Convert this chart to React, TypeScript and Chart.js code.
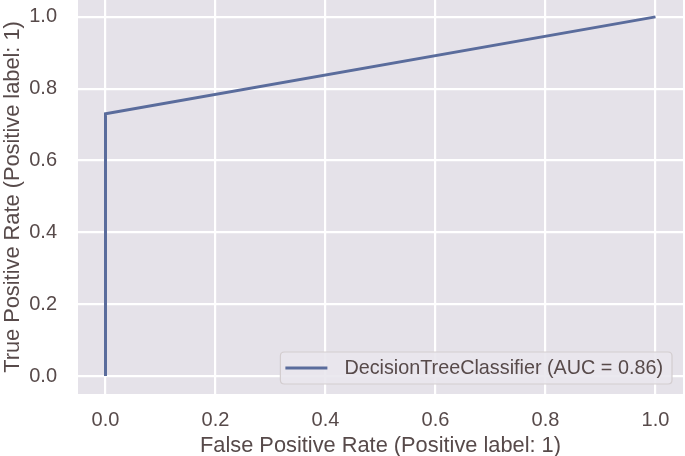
import React, { useEffect, useRef } from "react";
import { Chart, registerables } from "chart.js";

Chart.register(...registerables);

const fpr = [0, 0, 1];
const tpr = [0, 0.73, 1];
const xTicks = [0, 0.2, 0.4, 0.6, 0.8, 1.0];
const yTicks = [0, 0.2, 0.4, 0.6, 0.8, 1.0];
const seriesLabel = "DecisionTreeClassifier (AUC = 0.86)";
const xTitle = "False Positive Rate (Positive label: 1)";
const yTitle = "True Positive Rate (Positive label: 1)";

const FONT = "'Liberation Sans', Arial, sans-serif";
const TEXT = "#574a4a";
const BG = "#e5e2e9";
const LINE = "#5a6c9c";

const bgPlugin = {
  id: "plotBg",
  beforeDraw(chart: any) {
    const { ctx, chartArea } = chart;
    ctx.save();
    ctx.fillStyle = BG;
    ctx.fillRect(chartArea.left, chartArea.top, chartArea.right - chartArea.left, chartArea.bottom - chartArea.top);
    ctx.restore();
  },
};

const legendPlugin = {
  id: "innerLegend",
  afterDatasetsDraw(chart: any) {
    const { ctx, chartArea } = chart;
    const ds = chart.data.datasets[0];
    ctx.save();
    ctx.font = `19.8px ${FONT}`;
    const tw = ctx.measureText(ds.label).width;
    const handle = 42;
    const padL = 5, gap = 17, padR = 9;
    const w = padL + handle + gap + tw + padR;
    const h = 32;
    const x = chartArea.right - 11 - w;
    const y = chartArea.bottom - 10 - h;
    const r = 4;
    ctx.beginPath();
    ctx.moveTo(x + r, y);
    ctx.lineTo(x + w - r, y);
    ctx.quadraticCurveTo(x + w, y, x + w, y + r);
    ctx.lineTo(x + w, y + h - r);
    ctx.quadraticCurveTo(x + w, y + h, x + w - r, y + h);
    ctx.lineTo(x + r, y + h);
    ctx.quadraticCurveTo(x, y + h, x, y + h - r);
    ctx.lineTo(x, y + r);
    ctx.quadraticCurveTo(x, y, x + r, y);
    ctx.closePath();
    ctx.fillStyle = "rgba(233,231,237,0.9)";
    ctx.fill();
    ctx.strokeStyle = "#d3cdcf";
    ctx.lineWidth = 1.2;
    ctx.stroke();
    const cy = y + h / 2;
    ctx.beginPath();
    ctx.moveTo(x + padL, cy);
    ctx.lineTo(x + padL + handle, cy);
    ctx.strokeStyle = ds.borderColor;
    ctx.lineWidth = 3;
    ctx.stroke();
    ctx.fillStyle = TEXT;
    ctx.textBaseline = "middle";
    ctx.textAlign = "left";
    ctx.fillText(ds.label, x + padL + handle + gap, cy + 1);
    ctx.restore();
  },
};

export default function App() {
  const ref = useRef<HTMLCanvasElement | null>(null);
  useEffect(() => {
    if (!ref.current) return;
    const chart = new Chart(ref.current, {
      type: "scatter",
      data: {
        datasets: [
          {
            label: seriesLabel,
            data: fpr.map((v, i) => ({ x: v, y: tpr[i] })),
            showLine: true,
            borderColor: LINE,
            backgroundColor: LINE,
            borderWidth: 3,
            pointRadius: 0,
            tension: 0,
          },
        ],
      },
      options: {
        animation: false,
        responsive: false,
        layout: { padding: { top: 0, right: 2, left: 0, bottom: 0 } },
        plugins: { legend: { display: false }, tooltip: { enabled: false } },
        scales: {
          x: {
            type: "linear",
            min: -0.05,
            max: 1.05,
            afterBuildTicks: (s: any) => { s.ticks = xTicks.map((v) => ({ value: v })); },
            afterFit: (s: any) => { s.height = 62; s.paddingLeft = 0; s.paddingRight = 0; },
            grid: { color: "#ffffff", lineWidth: 2.2, drawTicks: false },
            border: { display: false },
            ticks: {
              padding: 14,
              color: TEXT,
              font: { family: FONT, size: 20 },
              callback: (v: any) => Number(v).toFixed(1),
              maxRotation: 0,
            },
            title: {
              display: true,
              text: xTitle,
              color: TEXT,
              font: { family: FONT, size: 21.8 },
              padding: { top: 0, bottom: -3 },
            },
          },
          y: {
            type: "linear",
            min: -0.05,
            max: 1.047,
            afterBuildTicks: (s: any) => { s.ticks = yTicks.map((v) => ({ value: v })); },
            afterFit: (s: any) => { s.width = 78; s.paddingTop = 0; s.paddingBottom = 0; },
            grid: { color: "#ffffff", lineWidth: 2.2, drawTicks: false },
            border: { display: false },
            ticks: {
              padding: 21,
              color: TEXT,
              font: { family: FONT, size: 20 },
              callback: (v: any) => Number(v).toFixed(1),
            },
            title: {
              display: true,
              text: yTitle,
              color: TEXT,
              font: { family: FONT, size: 21.8 },
              padding: { top: 0, bottom: 0 },
            },
          },
        },
      },
      plugins: [bgPlugin, legendPlugin],
    } as any);
    return () => chart.destroy();
  }, []);
  return (
    <div style={{ position: "fixed", left: 0, top: 0, width: 685, height: 456, background: "#ffffff" }}>
      <canvas ref={ref} width={685} height={456} />
    </div>
  );
}
